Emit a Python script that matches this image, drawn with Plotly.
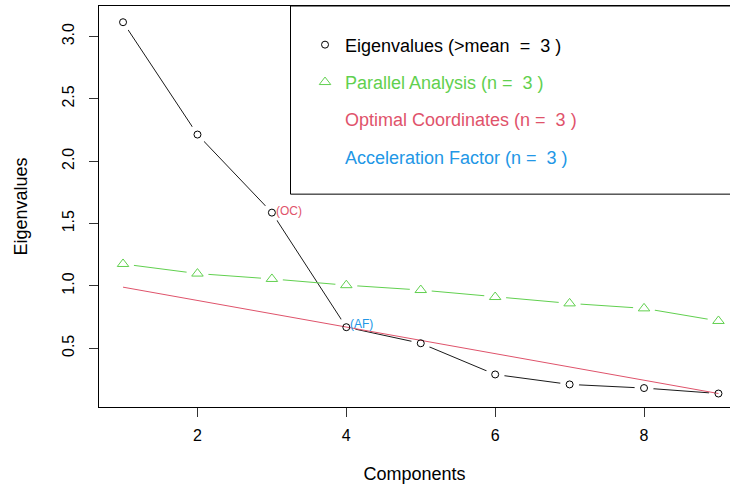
import plotly.graph_objects as go

# ---- data ----
components = [1, 2, 3, 4, 5, 6, 7, 8, 9]
eigenvalues = [3.115, 2.214, 1.588, 0.669, 0.540, 0.290, 0.210, 0.181, 0.137]
parallel = [1.176, 1.099, 1.056, 1.006, 0.967, 0.911, 0.860, 0.820, 0.719]
oc_x = [1, 9]
oc_line = [0.99, 0.137]
x_ticks = [2, 4, 6, 8]
y_ticks = [0.5, 1.0, 1.5, 2.0, 2.5, 3.0]
n_kaiser, n_par, n_oc, n_af = 3, 3, 3, 3

BLACK = "#000000"
RED = "#DF536B"
GREEN = "#61D04F"
BLUE = "#2297E6"
FONT = "Liberation Sans, Arial, sans-serif"

fig = go.Figure()

# lines (type = "b")
fig.add_trace(go.Scatter(x=components, y=eigenvalues, mode="lines",
                         line=dict(color="#1a1a1a", width=1), showlegend=False, hoverinfo="skip"))
fig.add_trace(go.Scatter(x=components, y=parallel, mode="lines",
                         line=dict(color=GREEN, width=1), showlegend=False, hoverinfo="skip"))
# gaps around points
fig.add_trace(go.Scatter(x=components, y=eigenvalues, mode="markers",
                         marker=dict(symbol="circle", size=19, color="white", line=dict(width=0)),
                         showlegend=False, hoverinfo="skip"))
fig.add_trace(go.Scatter(x=components, y=parallel, mode="markers",
                         marker=dict(symbol="circle", size=22, color="white", line=dict(width=0)),
                         showlegend=False, hoverinfo="skip"))
# optimal coordinates line
fig.add_trace(go.Scatter(x=oc_x, y=oc_line, mode="lines",
                         line=dict(color=RED, width=1), showlegend=False, hoverinfo="skip"))
# markers
fig.add_trace(go.Scatter(x=components, y=eigenvalues, mode="markers",
                         marker=dict(symbol="circle-open", size=7, color=BLACK, line=dict(width=1)),
                         name="Eigenvalues (>mean  =  %d )" % n_kaiser, legendgroup="a"))
fig.add_trace(go.Scatter(x=components, y=parallel, mode="markers",
                         marker=dict(symbol="triangle-up-open", size=10, color=GREEN, line=dict(width=1)),
                         name='<span style="color:%s">Parallel Analysis (n =  %d )</span>' % (GREEN, n_par),
                         legendgroup="b"))
fig.add_trace(go.Scatter(x=[None], y=[None], mode="markers", marker=dict(opacity=0, color="white"),
                         name='<span style="color:%s">Optimal Coordinates (n =  %d )</span>' % (RED, n_oc),
                         legendgroup="c"))
fig.add_trace(go.Scatter(x=[None], y=[None], mode="markers", marker=dict(opacity=0, color="white"),
                         name='<span style="color:%s">Acceleration Factor (n =  %d )</span>' % (BLUE, n_af),
                         legendgroup="d"))

# point labels
fig.add_annotation(x=components[n_oc - 1], y=eigenvalues[n_oc - 1], text="(OC)", showarrow=False,
                   xanchor="left", yanchor="middle", xshift=2, yshift=2,
                   font=dict(family=FONT, size=12, color=RED))
fig.add_annotation(x=components[n_af], y=eigenvalues[n_af], text="(AF)", showarrow=False,
                   xanchor="left", yanchor="middle", xshift=2, yshift=3,
                   font=dict(family=FONT, size=12, color=BLUE))

# legend box
fig.add_shape(type="rect", xref="paper", yref="paper", x0=0.3035, x1=1.05, y0=0.5308, y1=1.0,
              line=dict(color=BLACK, width=1), fillcolor="rgba(0,0,0,0)", layer="above")

fig.update_layout(
    width=730, height=484,
    margin=dict(l=99, r=0, t=6, b=77, pad=0),
    paper_bgcolor="white", plot_bgcolor="white",
    font=dict(family=FONT, size=16, color=BLACK),
    showlegend=True,
    legend=dict(x=0.3265, y=0.949, xanchor="left", yanchor="top",
                bgcolor="rgba(0,0,0,0)", borderwidth=0, tracegroupgap=11,
                font=dict(family=FONT, size=18, color=BLACK)),
    xaxis=dict(range=[0.677, 9.155], tickvals=x_ticks, ticktext=[str(v) for v in x_ticks],
               showgrid=False, zeroline=False, showline=True, linecolor=BLACK, linewidth=1,
               mirror=True, ticks="outside", ticklen=9, tickcolor="#333333", tickwidth=1,
               tickfont=dict(size=16), ticklabelstandoff=5,
               title=dict(text="Components", font=dict(size=18), standoff=25)),
    yaxis=dict(range=[0.029, 3.245], tickvals=y_ticks, ticktext=["%.1f" % v for v in y_ticks],
               showgrid=False, zeroline=False, showline=True, linecolor=BLACK, linewidth=1,
               mirror=False, ticks="outside", ticklen=9, tickcolor="#333333", tickwidth=1,
               tickangle=-90, tickfont=dict(size=16), ticklabelstandoff=9,
               title=dict(text="Eigenvalues", font=dict(size=18), standoff=27)),
)

fig.write_html("out.html", config={"displayModeBar": False},
               post_script="document.body.style.margin='0px';")
